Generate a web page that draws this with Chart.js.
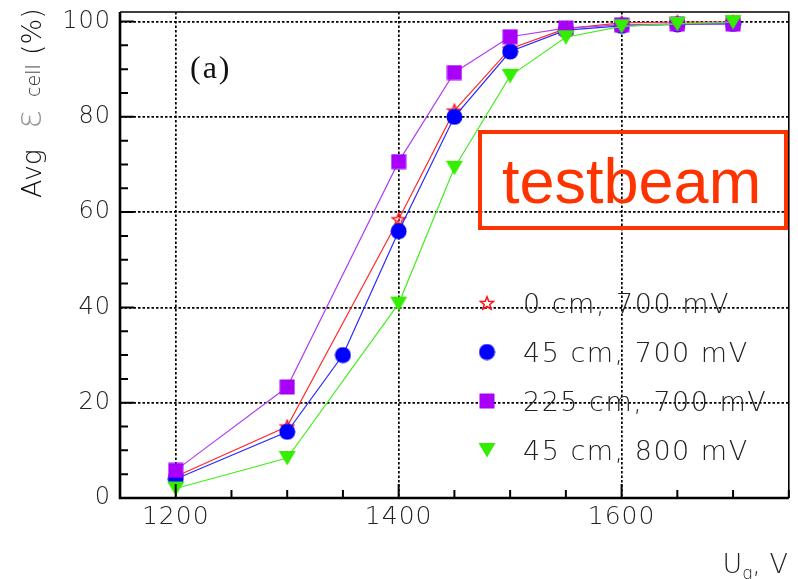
<!DOCTYPE html>
<html>
<head>
<meta charset="utf-8">
<script src="https://cdn.jsdelivr.net/npm/chart.js@4.4.0/dist/chart.umd.min.js"></script>
<style>
  html, body { margin: 0; padding: 0; background: #fff; }
  canvas { display: block; }
</style>
</head>
<body>
<canvas id="effChart" width="798" height="579"></canvas>
<script>
// average cell efficiency vs. voltage
const voltages     = [1200, 1300, 1400, 1450, 1500, 1550, 1600, 1650, 1700];
const voltagesFine = [1200, 1300, 1350, 1400, 1450, 1500, 1550, 1600, 1650, 1700];
const eff0cm700   = [4.5, 15.0, 58.5, 81.3, 94.3, 98.5, 99.7, 99.9, 99.9];
const eff45cm700  = [4.0, 13.9, 30.0, 56.0, 80.0, 93.7, 98.2, 99.1, 99.4, 99.5];
const eff225cm700 = [5.8, 23.3, 70.6, 89.3, 96.8, 98.6, 99.3, 99.5, 99.5];
const eff45cm800  = [2.0, 8.4, 40.8, 69.3, 88.6, 96.7, 99.0, 99.5, 99.9];
const seriesLabels = ['0 cm, 700 mV', '45 cm, 700 mV', '225 cm, 700 mV', '45 cm, 800 mV'];
const xTickLabels = [1200, 1400, 1600];
const yTickLabels = [0, 20, 40, 60, 80, 100];

const labelFont = "'DejaVu Sans'";

function toPoints(xs, ys) {
  return xs.map((v, i) => ({ x: v, y: ys[i] }));
}

// marker images, shared by the plot and the legend
function makeMarker(w, h, draw) {
  const c = document.createElement('canvas');
  c.width = w; c.height = h;
  draw(c.getContext('2d'), w, h);
  return c;
}
const starMark = makeMarker(16, 16, (g) => {
  g.beginPath();
  for (let i = 0; i < 10; i++) {
    const r = i % 2 ? 2.9 : 6.8;
    const a = -Math.PI / 2 + i * Math.PI / 5;
    g.lineTo(8 + r * Math.cos(a), 8.6 + r * Math.sin(a));
  }
  g.closePath();
  g.strokeStyle = '#ff1010';
  g.lineWidth = 1.5;
  g.stroke();
});
const circleMark = makeMarker(17, 17, (g) => {
  g.beginPath();
  g.arc(8.5, 8.5, 8, 0, Math.PI * 2);
  g.fillStyle = '#0000ff';
  g.fill();
});
const squareMark = makeMarker(16, 16, (g) => {
  g.fillStyle = '#a800f8';
  g.fillRect(0.5, 0.5, 15, 15);
});
const triangleMark = makeMarker(18, 16, (g) => {
  g.beginPath();
  g.moveTo(0.5, 1);
  g.lineTo(17.5, 1);
  g.lineTo(9, 15.5);
  g.closePath();
  g.fillStyle = '#33ee00';
  g.fill();
});
const markers = [starMark, circleMark, squareMark, triangleMark];
const lineColors = ['#ff2a2a', '#2a2aff', '#b040f0', '#44ee22'];

const datasets = [
  { data: toPoints(voltages, eff0cm700), order: 3 },
  { data: toPoints(voltagesFine, eff45cm700), order: 2 },
  { data: toPoints(voltages, eff225cm700), order: 1 },
  { data: toPoints(voltages, eff45cm800), order: 0 }
].map((d, i) => ({
  label: seriesLabels[i],
  data: d.data,
  order: d.order,
  showLine: true,
  borderColor: lineColors[i],
  borderWidth: 1.2,
  pointStyle: markers[i],
  pointRadius: 8,
  pointHoverRadius: 8
}));

// frame and inward tick marks
const frameAndTicks = {
  id: 'frameAndTicks',
  beforeDraw(chart) { chart.ctx.letterSpacing = '1px'; },
  afterDraw(chart) {
    const { ctx, chartArea: a, scales: { x, y } } = chart;
    ctx.save();
    ctx.letterSpacing = '0px';
    ctx.strokeStyle = '#000';
    ctx.lineWidth = 2;
    ctx.beginPath();
    x.ticks.forEach(t => {
      const px = x.getPixelForValue(t.value);
      const len = xTickLabels.includes(t.value) ? 14 : 8;
      ctx.moveTo(px, a.bottom);
      ctx.lineTo(px, a.bottom - len);
    });
    y.ticks.forEach(t => {
      const py = y.getPixelForValue(t.value);
      const len = yTickLabels.includes(t.value) ? 14 : 8;
      ctx.moveTo(a.left, py);
      ctx.lineTo(a.left + len, py);
    });
    ctx.stroke();

    ctx.lineWidth = 1.6;
    ctx.beginPath();
    ctx.moveTo(a.left, a.top);
    ctx.lineTo(a.right, a.top);
    ctx.lineTo(a.right, a.bottom);
    ctx.stroke();
    ctx.lineWidth = 2.6;
    ctx.beginPath();
    ctx.moveTo(a.left, a.top);
    ctx.lineTo(a.left, a.bottom);
    ctx.lineTo(a.right, a.bottom);
    ctx.stroke();
    ctx.restore();
  }
};

// legend, titles and the label box
const annotations = {
  id: 'annotations',
  afterDraw(chart) {
    const ctx = chart.ctx;
    ctx.save();

    // legend
    const rowY = [303, 352, 401, 450];
    ctx.font = '200 27px ' + labelFont;
    ctx.fillStyle = '#222';
    ctx.letterSpacing = '1.5px';
    ctx.textBaseline = 'alphabetic';
    ctx.textAlign = 'left';
    seriesLabels.forEach((lab, i) => {
      const m = markers[i];
      ctx.drawImage(m, 487 - m.width / 2, rowY[i] - m.height / 2);
      ctx.fillText(lab, 523, rowY[i] + 10);
    });

    // (a)
    ctx.font = "32px 'Liberation Serif'";
    ctx.fillStyle = '#111';
    ctx.letterSpacing = '2px';
    ctx.fillText('(a)', 190, 78);

    // testbeam box
    ctx.letterSpacing = '0px';
    ctx.strokeStyle = '#ff3300';
    ctx.lineWidth = 4;
    ctx.strokeRect(480, 132, 306, 96);
    ctx.font = "63px 'Liberation Sans'";
    ctx.fillStyle = '#ff3300';
    ctx.fillText('testbeam', 502, 203);

    // y axis title: Avg eps_cell (%)
    ctx.save();
    ctx.translate(41, 198);
    ctx.rotate(-Math.PI / 2);
    ctx.fillStyle = '#111';
    ctx.font = '200 27px ' + labelFont;
    ctx.fillText('Avg', 0, 0);
    ctx.fillStyle = '#999';
    ctx.font = "200 36px 'DejaVu Sans'";
    ctx.fillText('\u03b5', 69, 0);
    ctx.fillStyle = '#222';
    ctx.font = '200 19px ' + labelFont;
    ctx.fillText('cell', 101, -1);
    ctx.font = '200 27px ' + labelFont;
    ctx.fillStyle = '#111';
    ctx.fillText('(%)', 143, 0);
    ctx.restore();

    // x axis title: U_g, V
    ctx.fillStyle = '#222';
    ctx.textAlign = 'right';
    ctx.font = '200 27px ' + labelFont;
    ctx.fillText(', V', 788, 573);
    const w1 = ctx.measureText(', V').width;
    ctx.font = '200 17px ' + labelFont;
    ctx.fillText('g', 788 - w1, 579);
    const w2 = ctx.measureText('g').width;
    ctx.font = '200 27px ' + labelFont;
    ctx.fillText('U', 788 - w1 - w2, 573);

    ctx.restore();
  }
};

// dotted grid at the labelled values only
const dotted = [2.5, 2];
const gridColor = labels => c => labels.includes(c.tick.value) ? '#000' : 'rgba(0,0,0,0)';

new Chart(document.getElementById('effChart'), {
  type: 'scatter',
  data: { datasets },
  options: {
    responsive: false,
    animation: false,
    devicePixelRatio: 1,
    layout: { padding: { top: 12, right: 9, left: 0, bottom: 0 } },
    plugins: {
      legend: { display: false },
      tooltip: { enabled: false }
    },
    scales: {
      x: {
        type: 'linear',
        min: 1150,
        max: 1750,
        afterFit(s) { s.height = 81; s.paddingLeft = 0; s.paddingRight = 0; },
        border: { display: false, dash: dotted },
        grid: { drawTicks: false, lineWidth: 1.7, color: gridColor(xTickLabels) },
        ticks: {
          stepSize: 50,
          autoSkip: false,
          maxRotation: 0,
          padding: 4,
          color: '#222',
          font: { family: 'DejaVu Sans', size: 25, weight: 200 },
          callback: v => xTickLabels.includes(v) ? String(v) : ''
        }
      },
      y: {
        min: 0,
        max: 102,
        afterFit(s) { s.width = 120; s.paddingTop = 0; s.paddingBottom = 0; },
        border: { display: false, dash: dotted },
        grid: { drawTicks: false, lineWidth: 1.7, color: gridColor(yTickLabels) },
        ticks: {
          stepSize: 5,
          includeBounds: false,
          autoSkip: false,
          padding: 9,
          color: '#222',
          font: { family: 'DejaVu Sans', size: 24, weight: 200 },
          callback: v => yTickLabels.includes(v) ? String(v) : ''
        }
      }
    }
  },
  plugins: [frameAndTicks, annotations]
});
</script>
</body>
</html>
